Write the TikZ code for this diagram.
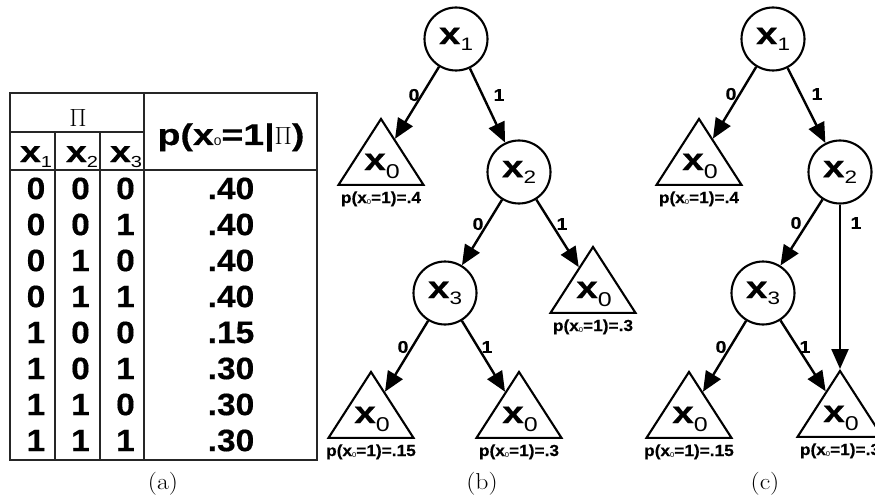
\documentclass[tikz,border=0pt]{standalone}
\usepackage{graphicx}
\usepackage{fontspec}
\newfontfamily\arial[FakeStretch=1.25,BoldFeatures={FakeBold=0.4}]{Liberation Sans}
\newfontfamily\arialn[FakeStretch=1.08,BoldFeatures={FakeBold=0.4}]{Liberation Sans}
\newfontfamily\arialm[FakeStretch=1.15,BoldFeatures={FakeBold=0.4}]{Liberation Sans}
\usetikzlibrary{arrows.meta,shapes.geometric}
\newcommand\fsz[1]{\fontsize{#1}{#1}\selectfont}
\newcommand\nx[1]{x\raisebox{-6pt}{\mdseries\fsz{18}#1}}
\newcommand\hx[1]{x\raisebox{-5pt}{\mdseries\fsz{16}#1}}
\tikzset{
  tline/.style={line width=1.8pt, draw=black!85},
  tnum/.style={font=\arialn\bfseries\fsz{31}, inner sep=0pt},
  thead/.style={font=\arial\bfseries\fsz{30}, inner sep=0pt, anchor=base},
  circ/.style={circle, draw, line width=2.1pt, minimum size=63pt, inner sep=0pt, font=\arial\bfseries\fsz{31}},
  leaf/.style={isosceles triangle, isosceles triangle apex angle=65.6, shape border rotate=90,
               draw, line width=2.1pt, minimum width=66pt, minimum height=66pt, inner sep=0pt, anchor=apex},
  leaftext/.style={font=\arial\bfseries\fsz{31}, inner sep=0pt, anchor=base},
  plab/.style={font=\arialn\bfseries\fsz{16}, inner sep=0pt, anchor=base},
  elab/.style={font=\arialm\bfseries\fsz{17}, inner sep=0pt},
  arr/.style={line width=2.4pt, -{Triangle[length=20pt,width=17pt]}},
  captext/.style={font=\fsz{23}, inner sep=0pt, anchor=base}
}
\begin{document}
\begin{tikzpicture}[x=1pt,y=-1pt]
\useasboundingbox (0,0) rectangle (875,500);
\clip (0,0) rectangle (875,500);
% ---------- table (a)
\draw[tline] (10,93) rectangle (317,460);
\draw[tline] (10,132) -- (144,132);
\draw[tline] (10,170) -- (317,170);
\draw[tline] (55,132) -- (55,460);
\draw[tline] (100,132) -- (100,460);
\draw[tline] (144,93) -- (144,460);
\node[thead, font=\fsz{34}] (pi) at (78,127) {$\Pi$};
\node[thead] (hp) at (231,145) {p(x\raisebox{-1pt}{\mdseries\fsz{11}0}=1|{\mdseries\fsz{35}$\Pi$})};
\node[thead] (h1) at (36,162) {\hx{1}};
\node[thead] (h2) at (82,162) {\hx{2}};
\node[thead] (h3) at (126,162) {\hx{3}};
\foreach \a/\b/\c/\v [count=\i] in {0/0/0/.40,0/0/1/.40,0/1/0/.40,0/1/1/.40,1/0/0/.15,1/0/1/.30,1/1/0/.30,1/1/1/.30}{
  \node[tnum] (ra\i) at (36,{188.5+36*(\i-1)}) {\a};
  \node[tnum] (rb\i) at (80.5,{188.5+36*(\i-1)}) {\b};
  \node[tnum] (rc\i) at (125.5,{188.5+36*(\i-1)}) {\c};
  \node[tnum] (rv\i) at (231,{188.5+36*(\i-1)}) {\v};
}
\node[captext] (capa) at (163,489) {\scalebox{1.12}[1]{(a)}};
% ---------- tree (b)
\node[circ] (b1) at (456,39) {\nx{1}};
\node[circ] (b2) at (519,172) {\nx{2}};
\node[circ] (b3) at (445,293) {\nx{3}};
% ---------- tree (c)
\node[circ] (c1) at (773,39) {\nx{1}};
\node[circ] (c2) at (840,172) {\nx{2}};
\node[circ] (c3) at (763,293) {\nx{3}};
% ---------- leaves
\foreach \n/\x/\y/\p in {b10/381/117/.4, b20/593/245/.3, b30/371/370/.15, b31/519/370/.3,
                         c10/699/117/.4, c30/689/370/.15, c31/840/369/.3}{
  \node[leaf] (\n) at (\x,\y) {};
  \node[leaftext] (t\n) at (\x+1,\y+53) {x\raisebox{-8pt}{\mdseries\fsz{20}0}};
  \node[plab] (p\n) at (\x,\y+86) {p(x\raisebox{-1pt}{\mdseries\fsz{7}0}=1)=\p};
}
% ---------- connectors
\draw[arr] (b1) -- (b10);
\draw[arr] (b1) -- (b2);
\draw[arr] (b2) -- (b3);
\draw[arr] (b2) -- (b20);
\draw[arr] (b3) -- (b30);
\draw[arr] (b3) -- (b31);
\draw[arr] (c1) -- (c10);
\draw[arr] (c1) -- (c2);
\draw[arr] (c2) -- (c3);
\draw[arr] (c2) -- (c31);
\draw[arr] (c3) -- (c30);
\draw[arr] (c3) -- (c31);
% ---------- edge labels
\node[elab] (lb10) at (414,95) {0};
\node[elab] (lb11) at (499,95) {1};
\node[elab] (lb20) at (478,224) {0};
\node[elab] (lb21) at (562,224) {1};
\node[elab] (lb30) at (403,347) {0};
\node[elab] (lb31) at (487,347) {1};
\node[elab] (lc10) at (731,94) {0};
\node[elab] (lc11) at (817,94) {1};
\node[elab] (lc20) at (796,223) {0};
\node[elab] (lc21) at (856,223) {1};
\node[elab] (lc30) at (721,347) {0};
\node[elab] (lc31) at (805,347) {1};
\node[captext] (capb) at (482,489) {\scalebox{1.12}[1]{(b)}};
\node[captext] (capc) at (765,489) {\scalebox{1.12}[1]{(c)}};
\end{tikzpicture}
\end{document}
